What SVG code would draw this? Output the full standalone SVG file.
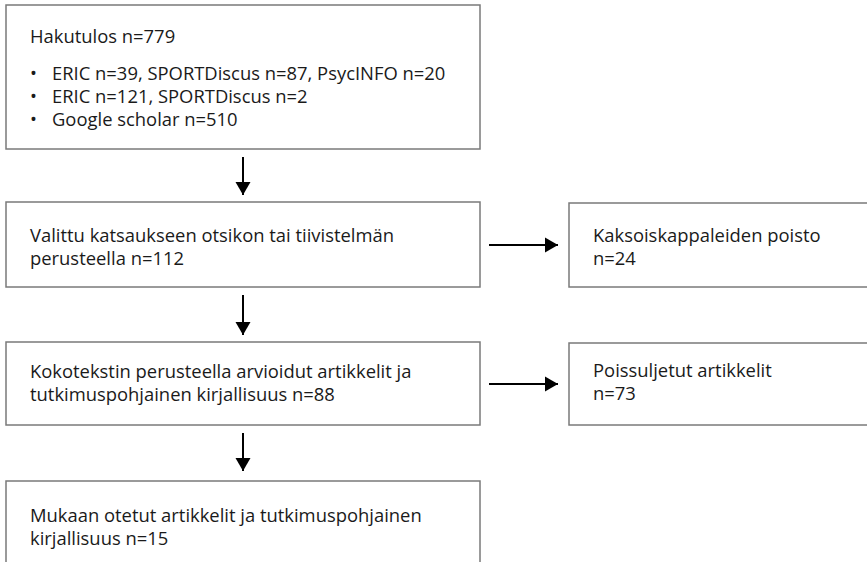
<svg xmlns="http://www.w3.org/2000/svg" width="867" height="562" viewBox="0 0 867 562">
<style>
.box{fill:#fff;stroke:#7a7a7a;stroke-width:1.5}
.t{font-family:"Open Sans","Noto Sans","Liberation Sans",sans-serif;font-size:18.4px;fill:#1a1a1a}
.c{stroke:#000;stroke-width:2;fill:none}
</style>
<defs>
<marker id="ah" markerUnits="userSpaceOnUse" markerWidth="18" markerHeight="18" refX="13" refY="9" orient="auto">
<path d="M0,1.5 L13,9 L0,16.5 Z" fill="#000"/>
</marker>
</defs>
<rect width="867" height="562" fill="#fff"/>
<g id="connectors">
<line class="c" x1="243" y1="157" x2="243" y2="195" marker-end="url(#ah)"/>
<line class="c" x1="243" y1="295" x2="243" y2="335" marker-end="url(#ah)"/>
<line class="c" x1="243" y1="433" x2="243" y2="471" marker-end="url(#ah)"/>
<line class="c" x1="489" y1="245" x2="558" y2="245" marker-end="url(#ah)"/>
<line class="c" x1="489" y1="384" x2="558" y2="384" marker-end="url(#ah)"/>
</g>
<g id="n1">
<rect class="box" x="6" y="5" width="474" height="144"/>
<text class="t" x="30" y="43">Hakutulos n=779</text>
<text class="t"><tspan x="30" y="80">•</tspan><tspan x="52" y="80">ERIC n=39, SPORTDiscus n=87, PsycINFO n=20</tspan><tspan x="30" y="103">•</tspan><tspan x="52" y="103">ERIC n=121, SPORTDiscus n=2</tspan><tspan x="30" y="126">•</tspan><tspan x="52" y="126">Google scholar n=510</tspan></text>
</g>
<g id="n2">
<rect class="box" x="6" y="202" width="474" height="85"/>
<text class="t"><tspan x="30" y="242">Valittu katsaukseen otsikon tai tiivistelmän</tspan><tspan x="30" y="265">perusteella n=112</tspan></text>
</g>
<g id="n3">
<rect class="box" x="569" y="203" width="310" height="84"/>
<text class="t"><tspan x="593" y="242">Kaksoiskappaleiden poisto</tspan><tspan x="593" y="265">n=24</tspan></text>
</g>
<g id="n4">
<rect class="box" x="6" y="342" width="474" height="83"/>
<text class="t"><tspan x="30" y="378">Kokotekstin perusteella arvioidut artikkelit ja</tspan><tspan x="30" y="401">tutkimuspohjainen kirjallisuus n=88</tspan></text>
</g>
<g id="n5">
<rect class="box" x="569" y="343" width="310" height="82"/>
<text class="t"><tspan x="593" y="377">Poissuljetut artikkelit</tspan><tspan x="593" y="400">n=73</tspan></text>
</g>
<g id="n6">
<rect class="box" x="6" y="481" width="474" height="100"/>
<text class="t"><tspan x="30" y="522">Mukaan otetut artikkelit ja tutkimuspohjainen</tspan><tspan x="30" y="545">kirjallisuus n=15</tspan></text>
</g>
</svg>
